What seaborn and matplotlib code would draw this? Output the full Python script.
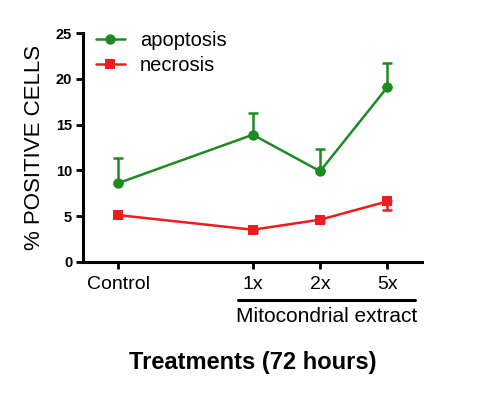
import matplotlib
matplotlib.use("Agg")
import matplotlib.pyplot as plt
import matplotlib.transforms as mtransforms
import seaborn as sns
import pandas as pd

categories = ["Control", "1x", "2x", "5x"]
x_positions = [0, 2, 3, 4]
apoptosis = [8.6, 13.9, 9.9, 19.1]
apoptosis_err = [2.7, 2.4, 2.4, 2.6]
necrosis = [5.1, 3.5, 4.6, 6.6]
necrosis_err = [0.3, 0.3, 0.3, 0.9]

sns.set_theme(style="ticks")
plt.rcParams['font.family'] = ['Liberation Sans', 'DejaVu Sans']
plt.rcParams['text.color'] = 'black'
plt.rcParams['axes.labelcolor'] = 'black'
plt.rcParams['xtick.color'] = 'black'
plt.rcParams['ytick.color'] = 'black'

green = "#1e8a24"
red = "#ee1c1c"

df = pd.DataFrame({
    "x": x_positions * 2,
    "value": apoptosis + necrosis,
    "series": ["apoptosis"] * 4 + ["necrosis"] * 4,
})

fig = plt.figure(figsize=(4.8, 3.94), dpi=100)
ax = fig.add_axes([0.1735, 0.3358, 0.705, 0.5797])

# error bars (one-sided)
ax.errorbar(x_positions, apoptosis, yerr=[[0] * 4, apoptosis_err], fmt="none",
            ecolor=green, elinewidth=1.8, capsize=3.6, capthick=1.8, zorder=2)
ax.errorbar(x_positions, necrosis, yerr=[necrosis_err, [0] * 4], fmt="none",
            ecolor=red, elinewidth=1.8, capsize=3.6, capthick=1.8, zorder=2)

sns.lineplot(data=df, x="x", y="value", hue="series", style="series",
             markers={"apoptosis": "o", "necrosis": "s"}, dashes=False,
             palette={"apoptosis": green, "necrosis": red},
             linewidth=1.8, markersize=7.5, markeredgewidth=0, ax=ax, zorder=3)

ax.set_xlim(-0.52, 4.51)
ax.set_ylim(0, 25)
ax.set_xticks(x_positions)
ax.set_xticklabels(categories, fontsize=14)
ax.set_yticks([0, 5, 10, 15, 20, 25])
ax.set_yticklabels(["0", "5", "10", "15", "20", "25"], fontsize=10.5, fontweight="bold")
ax.tick_params(axis="both", width=2, length=5, color="black", pad=3)
ax.tick_params(axis="x", pad=5)
for s in ["left", "bottom"]:
    ax.spines[s].set_linewidth(2.2)
    ax.spines[s].set_color("black")
for s in ["top", "right"]:
    ax.spines[s].set_visible(False)

ax.set_xlabel("")
ax.set_ylabel("% POSITIVE CELLS", fontsize=16, labelpad=8)

leg = ax.legend(loc="upper left", bbox_to_anchor=(-0.015, 1.09), frameon=False,
                fontsize=14.5, handlelength=1.4, handletextpad=0.75, labelspacing=0.3)

# Mitocondrial extract bracket
trans = mtransforms.blended_transform_factory(ax.transData, fig.transFigure)
ax.plot([1.78, 4.41], [1 - 300 / 394, 1 - 300 / 394], color="black", lw=2.2,
        transform=trans, clip_on=False)
ax.text(3.1, 1 - 316 / 394, "Mitocondrial extract", transform=trans,
        ha="center", va="center", fontsize=15)

fig.text(253 / 480, 1 - 362 / 394, "Treatments (72 hours)", ha="center",
         va="center", fontsize=17, fontweight="bold")

fig.savefig("out.png", dpi=100)
